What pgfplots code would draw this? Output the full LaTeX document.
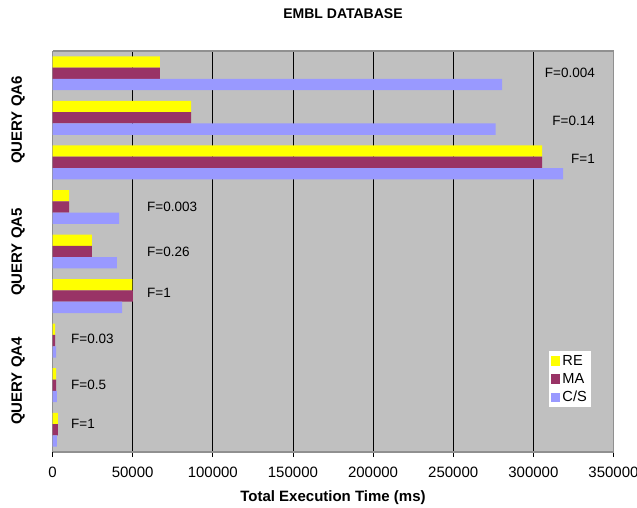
\documentclass[border=0pt]{standalone}
\usepackage{fontspec}
\setmainfont{Liberation Sans}
\usepackage{pgfplots}
\pgfplotsset{compat=1.18}
\definecolor{reY}{HTML}{FFFF00}
\definecolor{maM}{HTML}{993366}
\definecolor{csB}{HTML}{9999FF}
\definecolor{bgG}{HTML}{C0C0C0}
\definecolor{axG}{HTML}{909090}
\begin{document}
\begin{tikzpicture}[x=1pt,y=1pt]
\useasboundingbox (-52.5,-55) rectangle (584.5,452);
\begin{axis}[at={(0,0)}, anchor=south west, scale only axis,
  width=561pt, height=401pt,
  xmin=0, xmax=350000, ymin=-0.5, ymax=8.5,
  xbar, bar width=11.3pt,
  axis background/.style={fill=bgG},
  axis line style={draw=axG, line width=1.2pt},
  separate axis lines,
  x axis line style={draw=axG},
  xtick={0,50000,...,350000}, scaled x ticks=false,
  xticklabel style={font=\fontsize{15}{18}\selectfont, yshift=-6pt,
    /pgf/number format/fixed, /pgf/number format/1000 sep={},
    /pgf/number format/assume math mode=true},
  xmajorgrids, major grid style={black, line width=0.8pt},
  ytick=\empty,
  tick align=outside, tick pos=left, major tick length=5pt,
  tick style={black, line width=0.8pt},
  xlabel={Total Execution Time (ms)},
  xlabel style={font=\bfseries\fontsize{15}{18}\selectfont, at={(rel axis cs:0.5,0)}, anchor=center, yshift=-46pt},
  legend style={at={(rel axis cs:0.885,0.252)}, anchor=north west, draw=none, fill=white,
    font=\fontsize{14.6}{17}\selectfont, inner sep=2pt, row sep=2.5pt, cells={anchor=west}},
  legend image code/.code={\fill[#1] (0pt,-4.6pt) rectangle (9.3pt,4.6pt);},
]
\addplot[fill=reY, draw=none, bar shift=11.3pt] coordinates {
 (67000,8) (86500,7) (305500,6) (10300,5) (24600,4) (49800,3) (1600,2) (2200,1) (3400,0)};
\addplot[fill=maM, draw=none, bar shift=0pt] coordinates {
 (67000,8) (86500,7) (305500,6) (10300,5) (24600,4) (50200,3) (1600,2) (2200,1) (3400,0)};
\addplot[fill=csB, draw=none, bar shift=-11.3pt] coordinates {
 (280500,8) (276500,7) (318500,6) (41500,5) (40200,4) (43400,3) (2200,2) (2800,1) (2800,0)};
\legend{RE,MA,C/S}
\begin{scope}[every node/.style={font=\fontsize{13.5}{16}\selectfont, inner sep=0pt}]
\node[anchor=east] at (axis cs:338500,8) {F=0.004};
\node[anchor=east] at (axis cs:338500,6.93) {F=0.14};
\node[anchor=east] at (axis cs:338500,6.07) {F=1};
\node[anchor=west] at (axis cs:58960,5) {F=0.003};
\node[anchor=west] at (axis cs:58960,4) {F=0.26};
\node[anchor=west] at (axis cs:58960,3.07) {F=1};
\node[anchor=west] at (axis cs:11540,2.05) {F=0.03};
\node[anchor=west] at (axis cs:11540,1) {F=0.5};
\node[anchor=west] at (axis cs:11540,0.13) {F=1};
\end{scope}
\end{axis}
\node[font=\bfseries\fontsize{14}{16}\selectfont] at (290.5,438) {EMBL DATABASE};
\begin{scope}[every node/.style={rotate=90, font=\bfseries\fontsize{15}{18}\selectfont}]
\node at (-34.5,332) {QUERY QA6};
\node at (-34.5,200) {QUERY QA5};
\node at (-34.5,71) {QUERY QA4};
\end{scope}
\end{tikzpicture}
\end{document}
